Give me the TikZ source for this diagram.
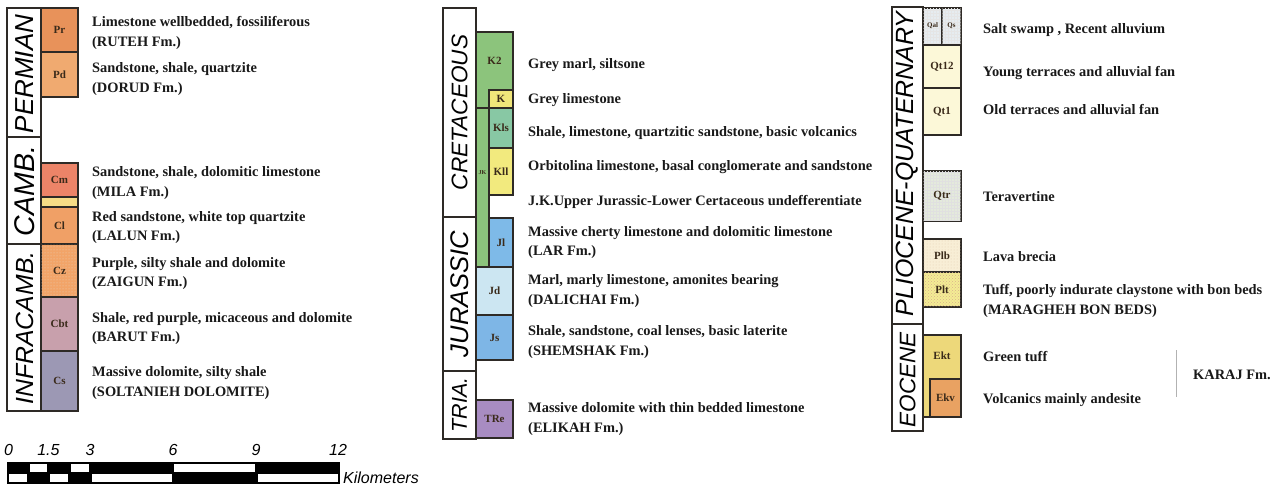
\documentclass[tikz,border=0pt]{standalone}
\usepackage{fontspec}
\setmainfont{Liberation Serif}
\setsansfont{Liberation Sans}
\usetikzlibrary{patterns}
\definecolor{edge}{HTML}{2E2A26}
\definecolor{labc}{HTML}{3A2A1A}
\definecolor{cPr}{HTML}{E8925A}
\definecolor{cPd}{HTML}{F0AA70}
\definecolor{cCm}{HTML}{EC8468}
\definecolor{cStrip}{HTML}{F6DC86}
\definecolor{cCl}{HTML}{F0A066}
\definecolor{cCz}{HTML}{F2A468}
\definecolor{cCbt}{HTML}{C8A0AC}
\definecolor{cCs}{HTML}{9C98B4}
\definecolor{cK2}{HTML}{8CC47C}
\definecolor{cK}{HTML}{F0E67A}
\definecolor{cKls}{HTML}{88C8A4}
\definecolor{cKll}{HTML}{F2EA7E}
\definecolor{cJl}{HTML}{7EBAE8}
\definecolor{cJd}{HTML}{CCE6F2}
\definecolor{cJs}{HTML}{7EB6E6}
\definecolor{cTRe}{HTML}{A88CC2}
\definecolor{cQal}{HTML}{E6ECF0}
\definecolor{cQt}{HTML}{FCF8D8}
\definecolor{cQtr}{HTML}{E4EADC}
\definecolor{cPlb}{HTML}{F8EED6}
\definecolor{cPlt}{HTML}{F4EC94}
\definecolor{cEkt}{HTML}{EDD87A}
\definecolor{cEkv}{HTML}{E9A262}
\newcommand\ubox[7]{%
  \draw[unitbox, fill=#6] (#2,#3) rectangle (#4,#5);
  \node[ulabel] (#1) at ({(#2+#4)/2},{(#3+#5)/2}) {#7};}
\begin{document}
\begin{tikzpicture}[x=1pt,y=-1pt,
  unitbox/.style={draw=edge, line width=1.1pt},
  perbox/.style={draw=edge, line width=1.1pt, fill=white},
  ulabel/.style={font=\fontsize{11}{12}\selectfont\bfseries, text=labc, inner sep=0pt},
  desc/.style={anchor=west, align=left, font=\fontsize{14.4}{19.5}\selectfont\bfseries, inner sep=0pt, text=black!90},
  period/.style={font=\sffamily\itshape\fontsize{#1}{#1}\selectfont, rotate=90, inner sep=0pt},
  sblab/.style={font=\sffamily\itshape\fontsize{16}{16}\selectfont, anchor=base, inner sep=0pt}]
\useasboundingbox[fill=white] (0,0) rectangle (1281,487);

% ---------- LEFT COLUMN ----------
\draw[perbox] (7,8) rectangle (41,411);
\draw[unitbox] (7,137) -- (41,137);
\draw[unitbox] (7,244) -- (41,244);
\node[period=26] (permian) at (24.5,74) {PERMIAN};
\node[period=28.5] (camb) at (24.5,191) {CAMB.};
\node[period=24.8] (infracamb) at (24.5,328) {INFRACAMB.};

\ubox{Pr}{41}{8}{78}{52}{cPr}{Pr}
\ubox{Pd}{41}{52}{78}{97}{cPd}{Pd}
\ubox{Cm}{41}{163}{78}{197}{cCm}{Cm}
\draw[unitbox, fill=cStrip] (41,197) rectangle (78,207);
\ubox{Cl}{41}{207}{78}{244}{cCl}{Cl}
\draw[unitbox, fill=cCz] (41,244) rectangle (78,297);
\fill[pattern=dots, pattern color=brown!35] (41.6,244.6) rectangle (77.4,296.4);
\node[ulabel] (Cz) at (59.5,270.5) {Cz};
\ubox{Cbt}{41}{297}{78}{351}{cCbt}{Cbt}
\ubox{Cs}{41}{351}{78}{411}{cCs}{Cs}

\node[desc] (tPr) at (92,33) {Limestone wellbedded, fossiliferous\\(RUTEH Fm.)};
\node[desc] (tPd) at (92,79) {Sandstone, shale, quartzite\\(DORUD Fm.)};
\node[desc] (tCm) at (92,183) {Sandstone, shale, dolomitic limestone\\(MILA Fm.)};
\node[desc] (tCl) at (92,227.5) {Red sandstone, white top quartzite\\(LALUN Fm.)};
\node[desc] (tCz) at (92,273.5) {Purple, silty shale and dolomite\\(ZAIGUN Fm.)};
\node[desc] (tCbt) at (92,328.5) {Shale, red purple, micaceous and dolomite\\(BARUT Fm.)};
\node[desc] (tCs) at (92,383) {Massive dolomite, silty shale\\(SOLTANIEH DOLOMITE)};

% ---------- MIDDLE COLUMN ----------
\draw[perbox] (443,8) rectangle (476,439);
\draw[unitbox] (443,217) -- (476,217);
\draw[unitbox] (443,371) -- (476,371);
\node[period=22.6] (cret) at (459.5,112.5) {CRETACEOUS};
\node[period=25.5] (jur) at (459.5,294) {JURASSIC};
\node[period=21.5] (tria) at (459.5,405) {TRIA.};

\draw[unitbox, fill=cK2] (476,32) rectangle (513,108);
\node[ulabel] (K2) at (494.5,61) {K2};
\ubox{K}{489}{90}{513}{108}{cK}{K}
\draw[unitbox, fill=cK2] (476,108) rectangle (489,267);
\node[ulabel, font=\fontsize{6}{6}\selectfont\bfseries] (JK) at (482.5,173) {JK};
\ubox{Kls}{489}{108}{513}{148}{cKls}{Kls}
\ubox{Kll}{489}{148}{513}{195}{cKll}{Kll}
\ubox{Jl}{489}{218}{513}{267}{cJl}{Jl}
\ubox{Jd}{476}{267}{513}{315}{cJd}{Jd}
\ubox{Js}{476}{315}{513}{360}{cJs}{Js}
\ubox{TRe}{476}{400}{513}{438}{cTRe}{TRe}

\node[desc] (tK2) at (528,65) {Grey marl, siltsone};
\node[desc] (tK) at (528,100) {Grey limestone};
\node[desc] (tKls) at (528,133) {Shale, limestone, quartzitic sandstone, basic volcanics};
\node[desc] (tKll) at (528,167) {Orbitolina limestone, basal conglomerate and sandstone};
\node[desc] (tJK) at (528,202) {J.K.Upper Jurassic-Lower Certaceous undefferentiate};
\node[desc] (tJl) at (528,242.5) {Massive cherty limestone and dolomitic limestone\\(LAR Fm.)};
\node[desc] (tJd) at (528,291) {Marl, marly limestone, amonites bearing\\(DALICHAI Fm.)};
\node[desc] (tJs) at (528,342) {Shale, sandstone, coal lenses, basic laterite\\(SHEMSHAK Fm.)};
\node[desc] (tTRe) at (528,419) {Massive dolomite with thin bedded limestone\\(ELIKAH Fm.)};

% ---------- RIGHT COLUMN ----------
\draw[perbox] (892,7) rectangle (923,431);
\draw[unitbox] (892,324) -- (923,324);
\node[period=24.9] (plioq) at (907.5,164) {PLIOCENE-QUATERNARY};
\node[period=22.5] (eoc) at (907.5,379.5) {EOCENE};

\draw[unitbox, fill=cQal] (923,8) rectangle (942,45);
\fill[pattern=grid, pattern color=black!10] (923.6,8.6) rectangle (941.4,44.4);
\node[ulabel, font=\fontsize{7}{7}\selectfont\bfseries] (Qal) at (932.5,26) {Qal};
\draw[unitbox, fill=cQal] (942,8) rectangle (961,45);
\fill[pattern=grid, pattern color=black!10] (942.6,8.6) rectangle (960.4,44.4);
\node[ulabel, font=\fontsize{7}{7}\selectfont\bfseries] (Qs) at (951.5,26) {Qs};
\ubox{Qt12}{923}{45}{961}{88}{cQt}{Qt12}
\ubox{Qt1}{923}{88}{961}{135}{cQt}{Qt1}
\draw[unitbox, fill=cQtr] (923,171) rectangle (961,221);
\fill[pattern=grid, pattern color=black!12] (923.6,171.6) rectangle (960.4,220.4);
\node[ulabel] (Qtr) at (942,196) {Qtr};
\draw[unitbox, fill=cPlb] (923,239) rectangle (961,272);
\fill[pattern=dots, pattern color=brown!40] (923.6,239.6) rectangle (960.4,271.4);
\node[ulabel] (Plb) at (942,255.5) {Plb};
\draw[unitbox, fill=cPlt] (923,272) rectangle (961,307);
\fill[pattern=crosshatch dots, pattern color=brown!60] (923.6,272.6) rectangle (960.4,306.4);
\node[ulabel] (Plt) at (942,289.5) {Plt};
\draw[unitbox, fill=cEkt] (923,335) rectangle (961,417);
\node[ulabel] (Ekt) at (942,356) {Ekt};
\ubox{Ekv}{930}{379}{961}{417}{cEkv}{Ekv}

\node[desc] (tQal) at (983,30) {Salt swamp , Recent alluvium};
\node[desc] (tQt12) at (983,73) {Young terraces and alluvial fan};
\node[desc] (tQt1) at (983,110) {Old terraces and alluvial fan};
\node[desc] (tQtr) at (983,197) {Teravertine};
\node[desc] (tPlb) at (983,257) {Lava brecia};
\node[desc] (tPlt) at (983,301) {Tuff, poorly indurate claystone with bon beds\\(MARAGHEH BON BEDS)};
\node[desc] (tEkt) at (983,357) {Green tuff};
\node[desc] (tEkv) at (983,400) {Volcanics mainly andesite};
\coordinate (brT) at (1176,350);
\coordinate (brB) at (1176,397);
\draw[black!30, line width=0.8pt] (brT) -- (brB);
\node[desc] (karaj) at (1193,375) {KARAJ Fm.};

% ---------- SCALE BAR ----------
\fill[black] (7,462) rectangle (339.5,483.5);
\fill[white] (30,464.3) rectangle (47.3,471.7);
\fill[white] (71,464.3) rectangle (89.3,471.7);
\fill[white] (174,464.3) rectangle (255,471.7);
\fill[white] (8.8,474.3) rectangle (26.7,481.7);
\fill[white] (50,474.3) rectangle (68.3,481.7);
\fill[white] (91.7,474.3) rectangle (172.3,481.7);
\fill[white] (257.7,474.3) rectangle (337.6,481.7);
\node[sblab] (s0) at (8.5,455) {0};
\node[sblab] (s15) at (48.4,455) {1.5};
\node[sblab] (s3) at (90,455) {3};
\node[sblab] (s6) at (173,455) {6};
\node[sblab] (s9) at (256,455) {9};
\node[sblab] (s12) at (338,455) {12};
\node[sblab, anchor=base west] (km) at (343,483) {Kilometers};
\end{tikzpicture}
\end{document}
